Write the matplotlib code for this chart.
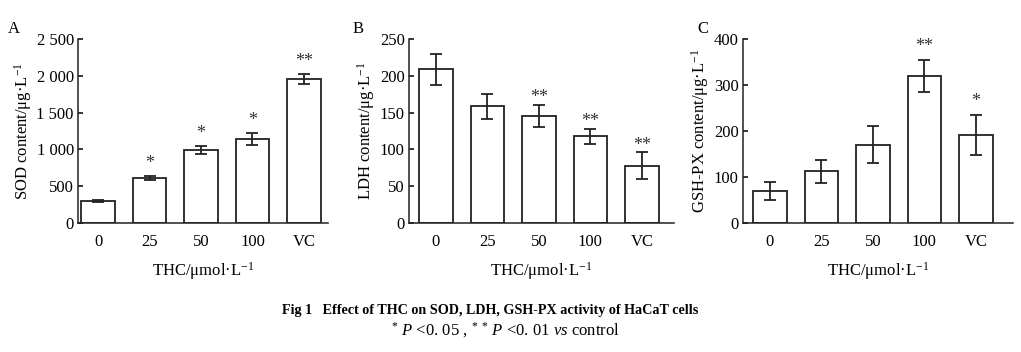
import matplotlib
matplotlib.use("Agg")
import matplotlib.pyplot as plt
import numpy as np

plt.rcParams['font.family'] = ['Liberation Serif', 'DejaVu Serif']
plt.rcParams['mathtext.fontset'] = 'custom'
plt.rcParams['mathtext.rm'] = 'Liberation Serif'
plt.rcParams['mathtext.it'] = 'Liberation Serif:italic'
plt.rcParams['font.size'] = 12

# groupes
groupes = ['0', '25', '50', '100', 'VC']

# SOD
sod = [295, 610, 990, 1140, 1960]
sod_err = [12, 30, 50, 80, 70]
sod_sig = ['', '*', '*', '*', '**']
sod_ticks = [0, 500, 1000, 1500, 2000, 2500]
sod_ticklab = ['0', '500', '1 000', '1 500', '2 000', '2 500']

# LDH
ldh = [209, 159, 145, 118, 78]
ldh_err = [21, 17, 15, 10, 18]
ldh_sig = ['', '', '**', '**', '**']
ldh_ticks = [0, 50, 100, 150, 200, 250]

# GSH-PX
gsh = [70, 112, 170, 319, 191]
gsh_err = [19, 26, 40, 35, 44]
gsh_sig = ['', '', '', '**', '*']
gsh_ticks = [0, 100, 200, 300, 400]

fig = plt.figure(figsize=(10.21, 3.52), dpi=100)

def panneau(pos, vals, errs, sigs, ticks, ticklab, ylab, lettre, lpos, xlim, sigdec):
    ax = fig.add_axes(pos)
    x = np.arange(len(vals))
    ax.bar(x, vals, width=0.65, color='white', edgecolor='#222222', linewidth=1.3, zorder=2)
    ax.errorbar(x, vals, yerr=errs, fmt='none', ecolor='#222222', elinewidth=1.3,
                capsize=4, capthick=1.3, zorder=3)
    # etoiles de significativite
    for i in range(len(vals)):
        if sigs[i]:
            ax.text(x[i], vals[i] + errs[i] + sigdec, sigs[i],
                    ha='center', va='center', fontsize=13, color='#333333')
    ax.set_xlim(xlim)
    ax.set_ylim(ticks[0], ticks[-1])
    ax.set_yticks(ticks)
    ax.set_yticklabels(ticklab)
    ax.set_xticks(x)
    ax.set_xticklabels(groupes)
    ax.spines['top'].set_visible(False)
    ax.spines['right'].set_visible(False)
    for s in ['left', 'bottom']:
        ax.spines[s].set_linewidth(1.1)
        ax.spines[s].set_color('#222222')
    ax.tick_params(axis='y', direction='in', length=3.5, width=1.1, pad=3, labelsize=12)
    ax.tick_params(axis='x', length=0, pad=8, labelsize=12)
    ax.set_ylabel(ylab, fontsize=12, labelpad=2)
    ax.set_xlabel('THC/μmol·L$^{-1}$', fontsize=12, labelpad=7)
    fig.text(lpos[0], lpos[1], lettre, fontsize=12, ha='left', va='center')
    return ax

panneau([0.0764, 0.3665, 0.245, 0.5225], sod, sod_err, sod_sig, sod_ticks, sod_ticklab,
        'SOD content/μg·L$^{-1}$', 'A', (0.008, 0.918), (-0.39, 4.47), 170)
panneau([0.4006, 0.3665, 0.2594, 0.5225], ldh, ldh_err, ldh_sig, ldh_ticks,
        [str(t) for t in ldh_ticks], 'LDH content/μg·L$^{-1}$', 'B', (0.345, 0.918), (-0.52, 4.62), 10)
panneau([0.7277, 0.3665, 0.2645, 0.5225], gsh, gsh_err, gsh_sig, gsh_ticks,
        [str(t) for t in gsh_ticks], 'GSH-PX content/μg·L$^{-1}$', 'C', (0.683, 0.918), (-0.52, 4.72), 30)

fig.text(0.48, 0.118, 'Fig 1   Effect of THC on SOD, LDH, GSH-PX activity of HaCaT cells',
         ha='center', va='center', fontsize=10.2, fontweight='bold')
fig.text(0.495, 0.062, '$^{*}$ $P$ <0. 05 , $^{*}$ $^{*}$ $P$ <0. 01 $vs$ control',
         ha='center', va='center', fontsize=12)

fig.savefig('out.png', dpi=100)
